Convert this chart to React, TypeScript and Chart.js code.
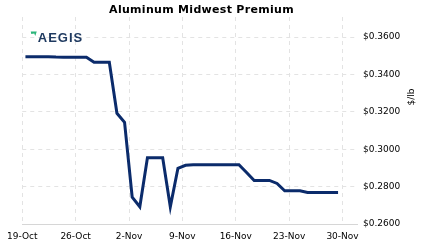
import React, { useEffect, useRef } from "react";
import { Chart, registerables } from "chart.js";

Chart.register(...registerables);

// Daily observations, 19-Oct-2020 .. 29-Nov-2020
const DATES = [
  "2020-10-19", "2020-10-20", "2020-10-21", "2020-10-22", "2020-10-23", "2020-10-24", "2020-10-25",
  "2020-10-26", "2020-10-27", "2020-10-28", "2020-10-29", "2020-10-30", "2020-10-31", "2020-11-01",
  "2020-11-02", "2020-11-03", "2020-11-04", "2020-11-05", "2020-11-06", "2020-11-07", "2020-11-08",
  "2020-11-09", "2020-11-10", "2020-11-11", "2020-11-12", "2020-11-13", "2020-11-14", "2020-11-15",
  "2020-11-16", "2020-11-17", "2020-11-18", "2020-11-19", "2020-11-20", "2020-11-21", "2020-11-22",
  "2020-11-23", "2020-11-24", "2020-11-25", "2020-11-26", "2020-11-27", "2020-11-28", "2020-11-29",
];
const PREMIUM = [
  0.3495, 0.3495, 0.3495, 0.3495, 0.3493, 0.3492, 0.3492,
  0.3492, 0.3492, 0.3465, 0.3465, 0.3465, 0.3192, 0.3144,
  0.2743, 0.2692, 0.2954, 0.2954, 0.2954, 0.2692, 0.2898,
  0.2914, 0.2917, 0.2917, 0.2917, 0.2917, 0.2917, 0.2917,
  0.2917, 0.2875, 0.2833, 0.2833, 0.2833, 0.2817, 0.2778,
  0.2778, 0.2778, 0.2769, 0.2769, 0.2769, 0.2769, 0.2769,
];
const X_TICK_LABELS = ["19-Oct", "26-Oct", "2-Nov", "9-Nov", "16-Nov", "23-Nov", "30-Nov"];
const Y_TICKS = [0.26, 0.28, 0.3, 0.32, 0.34, 0.36];

const TITLE = "Aluminum Midwest Premium";
const Y_TITLE = "$/lb";
const LOGO = "AEGIS";

const START = Date.UTC(2020, 9, 19);
const DAY = 86400000;
const SAMPLE_HOUR = 10; // observation time of day

export default function App() {
  const ref = useRef<HTMLCanvasElement | null>(null);

  useEffect(() => {
    document.body.style.margin = "0";
    const canvas = ref.current!;
    const points = DATES.map((d, i) => ({
      x: (Date.parse(d + "T00:00:00Z") - START) / DAY + SAMPLE_HOUR / 24,
      y: PREMIUM[i],
    }));

    const overlay = {
      id: "overlay",
      afterDraw(chart: any) {
        const ctx = chart.ctx as CanvasRenderingContext2D;
        const area = chart.chartArea;
        ctx.save();
        // title
        ctx.fillStyle = "#000";
        ctx.font = "bold 11px 'DejaVu Sans'";
        ctx.textAlign = "center";
        ctx.textBaseline = "middle";
        (ctx as any).letterSpacing = "0.3px";
        ctx.fillText(TITLE, 201.5, 10);
        (ctx as any).letterSpacing = "0px";
        // logo mark
        ctx.fillStyle = "#2bb57a";
        ctx.beginPath();
        ctx.moveTo(area.left + 8.5, area.top + 14.5);
        ctx.lineTo(area.left + 14.5, area.top + 14.5);
        ctx.lineTo(area.left + 13, area.top + 19);
        ctx.lineTo(area.left + 12, area.top + 16.5);
        ctx.lineTo(area.left + 9, area.top + 17);
        ctx.closePath();
        ctx.fill();
        ctx.fillStyle = "#1f3a60";
        ctx.font = "bold 13px 'Liberation Sans'";
        ctx.textAlign = "left";
        ctx.textBaseline = "alphabetic";
        (ctx as any).letterSpacing = "1px";
        ctx.fillText(LOGO, area.left + 15.5, area.top + 24.7);
        (ctx as any).letterSpacing = "0px";
        // y title
        ctx.fillStyle = "#000";
        ctx.font = "9px 'DejaVu Sans'";
        ctx.textAlign = "center";
        ctx.textBaseline = "middle";
        ctx.translate(412, 97);
        ctx.rotate(-Math.PI / 2);
        ctx.fillText(Y_TITLE, 0, 0);
        ctx.restore();
      },
    };

    const chart = new Chart(canvas, {
      type: "line",
      data: {
        datasets: [
          {
            data: points,
            borderColor: "#0b2b6b",
            borderWidth: 3,
            pointRadius: 0,
            tension: 0,
            fill: false,
          },
        ],
      },
      options: {
        animation: false,
        responsive: false,
        devicePixelRatio: 1,
        layout: { padding: { left: 21, top: 17, right: 0, bottom: 0 } },
        plugins: { legend: { display: false }, tooltip: { enabled: false }, title: { display: false } },
        scales: {
          x: {
            type: "linear",
            min: 0,
            max: 43.9,
            afterBuildTicks: (s: any) => {
              s.ticks = X_TICK_LABELS.map((_, i) => ({ value: i * 7 }));
            },
            afterFit: (s: any) => {
              s.height = 27;
            },
            ticks: {
              autoSkip: false,
              maxRotation: 0,
              padding: 7,
              color: "#000",
              font: { family: "'DejaVu Sans'", size: 9 },
              callback: (v: any) => X_TICK_LABELS[Math.round(Number(v) / 7)] ?? "",
            },
            grid: { color: "#e3e3e3", drawTicks: false, lineWidth: 1 },
            border: { display: true, color: "#d6d6d6", width: 1, dash: [4, 4] },
          },
          y: {
            position: "right",
            min: 0.26,
            max: 0.3707,
            afterBuildTicks: (s: any) => {
              s.ticks = Y_TICKS.map((v) => ({ value: v }));
            },
            afterFit: (s: any) => {
              s.width = 66;
            },
            ticks: {
              padding: 6,
              color: "#000",
              font: { family: "'DejaVu Sans'", size: 9 },
              callback: (v: any) => "$" + Number(v).toFixed(4),
            },
            grid: { color: "#e3e3e3", drawTicks: false, lineWidth: 1 },
            border: { display: false, dash: [4, 4] },
          },
        },
      },
      plugins: [overlay],
    } as any);

    return () => chart.destroy();
  }, []);

  return (
    <div style={{ width: 423, height: 251, background: "#fff" }}>
      <canvas ref={ref} width={423} height={251} style={{ display: "block" }} />
    </div>
  );
}
